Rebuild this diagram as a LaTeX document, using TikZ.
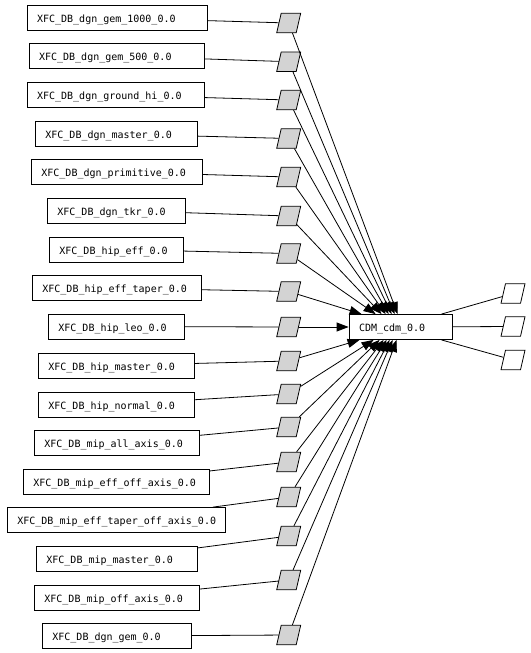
\documentclass[tikz,border=0pt]{standalone}
\usepackage{fontspec}
\newfontfamily\gvmono{DejaVu Sans Mono}
\usetikzlibrary{arrows.meta}
\definecolor{gvgray}{HTML}{D3D3D3}
\begin{document}
\begin{tikzpicture}[x=1pt,y=-1pt,
  box/.style={draw, line width=0.8pt, minimum height=25pt, inner xsep=10pt, inner ysep=0pt,
    align=left, text height=9.3pt, text depth=0pt, font=\gvmono\fontsize{10}{12}\selectfont},
  para/.style={rectangle, xslant=0.23, transform shape,
    draw, line width=0.8pt, fill=gvgray, minimum height=19.5pt, minimum width=19.5pt, inner sep=0pt},
  outpara/.style={para, fill=white},
  conn/.style={line width=0.8pt},
  arr/.style={line width=0.8pt, -{Triangle[length=12pt,width=9pt]}}
]
\useasboundingbox (0,0) rectangle (530,653);

\node[box, text width=83pt] (cdm) at (400.5,327) {CDM\_cdm\_0.0};

\foreach \i/\bx/\by/\w/\py/\t in {
1/26.7/18/180/23/XFC\_DB\_dgn\_gem\_1000\_0.0,
2/28.7/56/175/61.7/XFC\_DB\_dgn\_gem\_500\_0.0,
3/26.7/95/177/100/XFC\_DB\_dgn\_ground\_hi\_0.0,
4/35/134/162/138.5/XFC\_DB\_dgn\_master\_0.0,
5/31/172/171/177/XFC\_DB\_dgn\_primitive\_0.0,
6/47/210.5/138/216/XFC\_DB\_dgn\_tkr\_0.0,
7/49/249.5/134/253.5/XFC\_DB\_hip\_eff\_0.0,
8/32/288/169/291.5/XFC\_DB\_hip\_eff\_taper\_0.0,
9/48/326.5/136/327/XFC\_DB\_hip\_leo\_0.0,
10/38/365.5/156/361/XFC\_DB\_hip\_master\_0.0,
11/38/404.5/156/394/XFC\_DB\_hip\_normal\_0.0,
12/34/443/165/427/XFC\_DB\_mip\_all\_axis\_0.0,
13/23/481.5/186/462/XFC\_DB\_mip\_eff\_off\_axis\_0.0,
14/7/520/218/497/XFC\_DB\_mip\_eff\_taper\_off\_axis\_0.0,
15/36/558.5/161/536/XFC\_DB\_mip\_master\_0.0,
16/34/597.5/165/580/XFC\_DB\_mip\_off\_axis\_0.0,
17/42/636/149/635/XFC\_DB\_dgn\_gem\_0.0}{
  \pgfmathsetmacro\tw{\w-20}
  \node[box, anchor=west, text width=\tw pt] (b\i) at (\bx,\by) {\t};
  \node[para] (p\i) at (288.7,\py) {};
  \draw[conn] (b\i) -- (p\i);
}

\foreach \i/\d in {1/49,2/46,3/43,4/40,5/37,6/33,7/27,8/13}{
  \draw[arr] (p\i) -- ([xshift=\d pt]cdm.north west);
}
\draw[arr] (p9) -- (cdm);
\foreach \i/\d in {10/11,11/25,12/31,13/35,14/38,15/41,16/44,17/48}{
  \draw[arr] (p\i) -- ([xshift=\d pt]cdm.south west);
}

\node[outpara] (o1) at (513,293.5) {};
\node[outpara] (o2) at (513,326.5) {};
\node[outpara] (o3) at (513,360) {};
\draw[conn] ([xshift=-11pt]cdm.north east) -- (o1);
\draw[conn] (cdm) -- (o2);
\draw[conn] ([xshift=-11pt]cdm.south east) -- (o3);
\end{tikzpicture}
\end{document}
